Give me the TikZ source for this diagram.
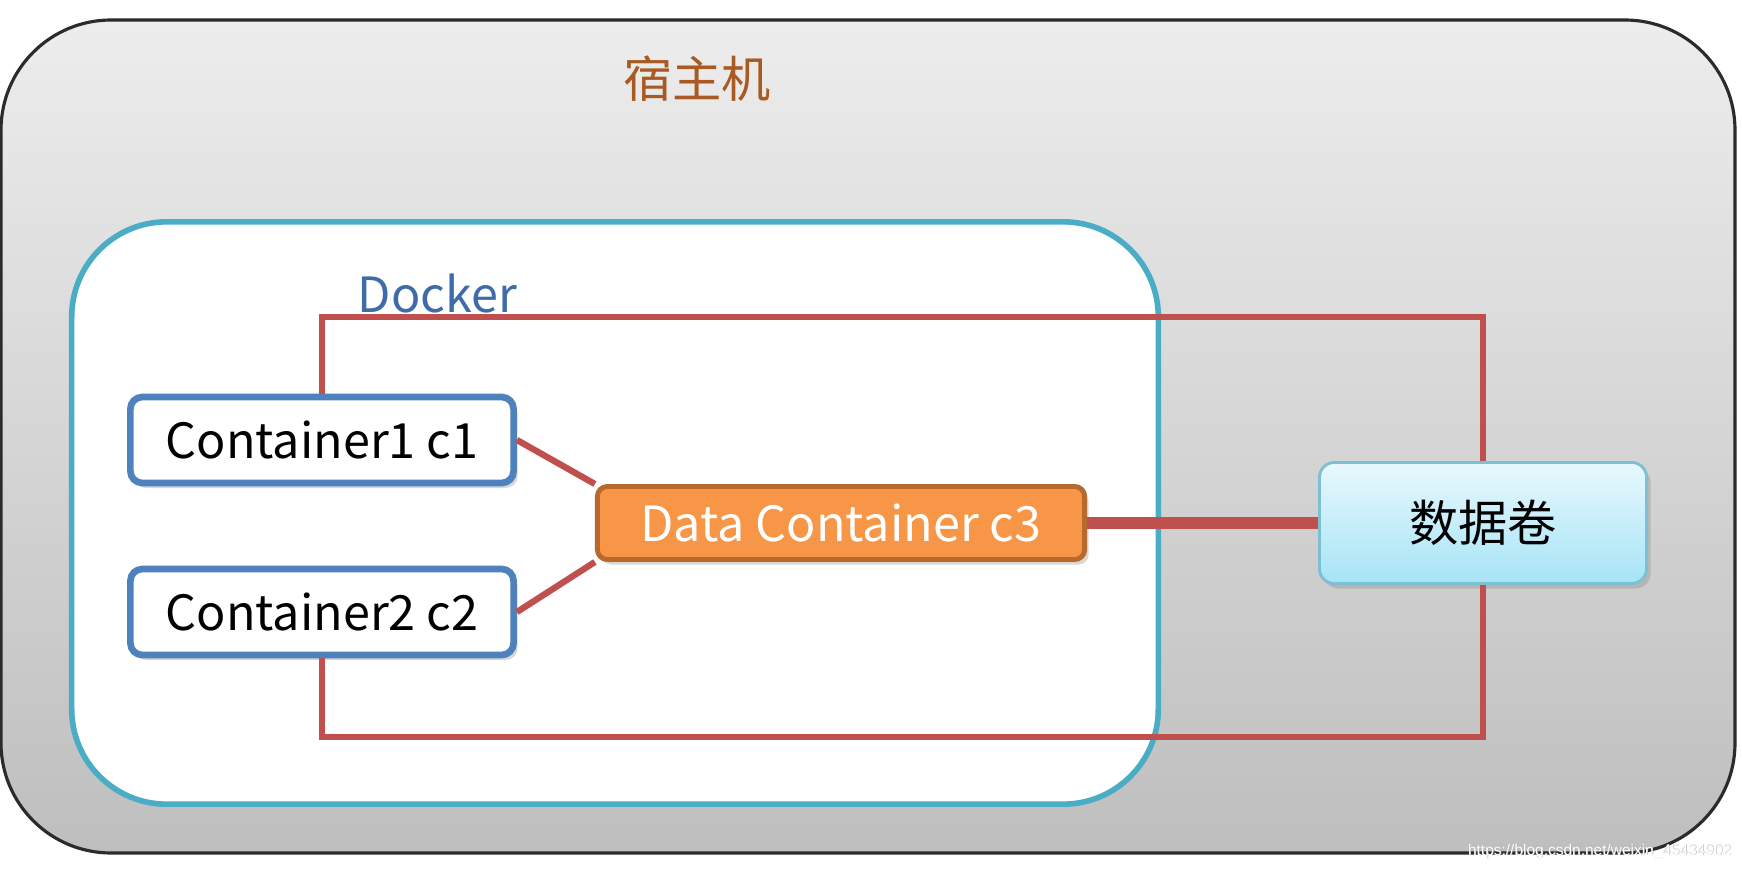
\documentclass[tikz,border=0pt]{standalone}
\usepackage{fontspec}
\setmainfont{Noto Sans CJK SC}
\newfontfamily\urlfont{Liberation Sans}
\usepackage{tikz}
\usepackage{xcolor}
\usetikzlibrary{shadows, positioning}

\definecolor{hostline}{HTML}{2B2B2B}
\definecolor{hosttop}{HTML}{EDEDED}
\definecolor{hostbot}{HTML}{BEBEBE}
\definecolor{hosttext}{HTML}{A85A22}
\definecolor{dockerline}{HTML}{4BACC6}
\definecolor{dockertext}{HTML}{3F6BA8}
\definecolor{boxline}{HTML}{4F81BD}
\definecolor{linkred}{HTML}{C0504D}
\definecolor{datafill}{HTML}{F79646}
\definecolor{dataline}{HTML}{B8692E}
\definecolor{voltop}{HTML}{E8F8FD}
\definecolor{volbot}{HTML}{A6E4F6}
\definecolor{volline}{HTML}{7DBFD3}

\tikzset{
    hostbox/.style={draw=hostline, line width=0.9pt, top color=hosttop, bottom color=hostbot, rounded corners=1.1cm},
    dockerbox/.style={draw=dockerline, line width=1.6pt, fill=white, rounded corners=0.95cm, inner sep=0, minimum width=10.86cm, minimum height=5.82cm},
    cbox/.style={draw=boxline, line width=1.9pt, fill=white, rounded corners=0.12cm, minimum width=3.83cm, minimum height=0.86cm, font=\fontsize{13.8pt}{17pt}\selectfont, drop shadow={opacity=0.3, shadow xshift=0.04cm, shadow yshift=-0.05cm}},
    databox/.style={draw=dataline, line width=1.4pt, fill=datafill, text=white, rounded corners=0.1cm, minimum width=4.87cm, minimum height=0.73cm, font=\fontsize{13.8pt}{17pt}\selectfont, drop shadow={opacity=0.3, shadow xshift=0.04cm, shadow yshift=-0.05cm}},
    volbox/.style={draw=volline, line width=0.8pt, top color=voltop, bottom color=volbot, rounded corners=0.15cm, minimum width=3.27cm, minimum height=1.21cm, font=\fontsize{14pt}{17pt}\selectfont, drop shadow={opacity=0.3, shadow xshift=0.04cm, shadow yshift=-0.05cm}},
    link/.style={draw=linkred, line width=1.8pt},
    thicklink/.style={draw=linkred, line width=3.3pt},
    urltext/.style={inner sep=0, anchor=east, font=\urlfont\fontsize{4.4pt}{5pt}\selectfont}
}

\begin{document}
\begin{tikzpicture}[x=0.01cm, y=-0.01cm]
                    \useasboundingbox[fill=white] (0, 0) rectangle (1742, 870);

                    \path[hostbox]
                    (1, 20) rectangle (1735, 853);

                    \node[text=hosttext, font=\fontsize{14pt}{17pt}\selectfont] (host) at (697, 79) {宿主机};

                    \node[dockerbox] (docker) at (615, 513) {};
                    \node[text=dockertext, anchor=west, inner sep=0, font=\fontsize{13.8pt}{17pt}\selectfont] (dlabel) at (357, 293) {Docker};

                    \node[cbox] (c1) at (322, 440) {Container1 c1};
                    \node[cbox] (c2) at (322, 612) {Container2 c2};
                    \node[databox] (c3) at (841, 523) {Data Container c3};
                    \node[volbox] (vol) at (1483, 523) {数据卷};

                    \coordinate (ltop) at (900, 317);
                    \coordinate (lbot) at (900, 737);

                    \draw[link] (c1.north) |- (ltop) -| (vol.north);
                    \draw[link] (c2.south) |- (lbot) -| (vol.south);
                    \draw[link] (c1.east) -- (c3.north west);
                    \draw[link] (c2.east) -- (c3.south west);
                    \draw[thicklink] (c3.east) -- (vol.west);

                    \node[urltext, text=gray!70] (wmshade) at (1732.5, 851.8) {https://blog.csdn.net/weixin\_45434902};
                    \node[urltext, text=white] (wm) at (1732, 851) {https://blog.csdn.net/weixin\_45434902};
                \end{tikzpicture}
\end{document}
